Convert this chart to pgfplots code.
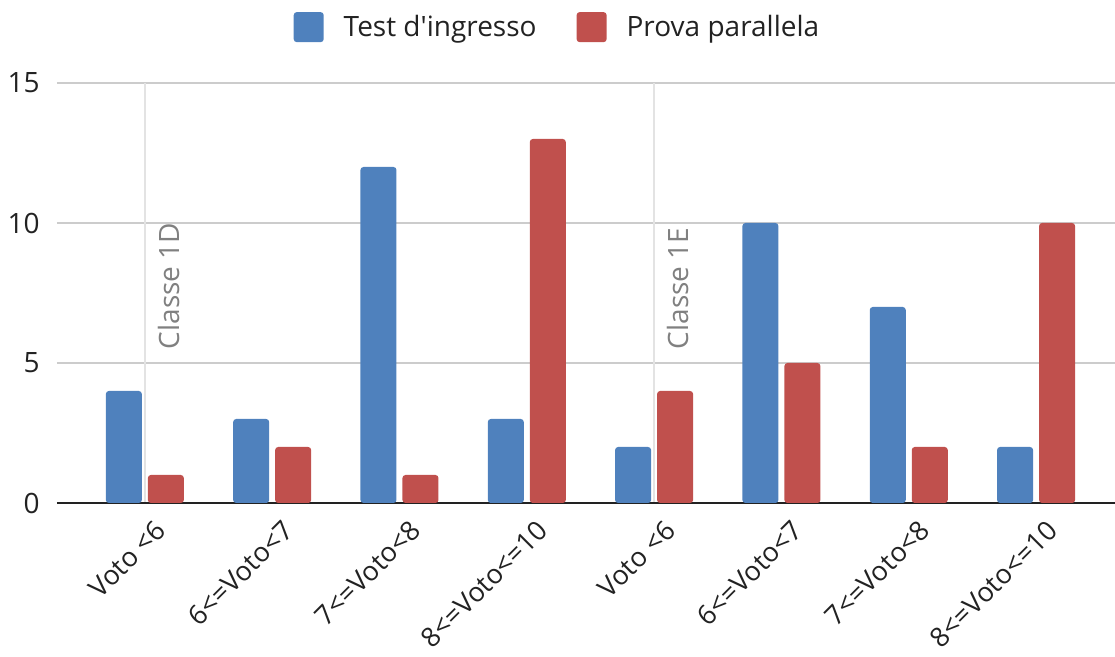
\documentclass[border=0pt]{standalone}
\usepackage{fontspec}
\setmainfont{Open Sans}[Ligatures=TeXOff]
\usepackage{pgfplots}
\pgfplotsset{compat=1.18}
\usetikzlibrary{calc}
\definecolor{serieblu}{HTML}{4F81BD}
\definecolor{serierossa}{HTML}{C0504D}
\definecolor{griglia}{HTML}{CCCCCC}
\definecolor{lineaclasse}{HTML}{E3E3E3}
\definecolor{testo}{HTML}{222222}
\newcommand{\fs}{\fontsize{14}{16}\selectfont}
\newcommand{\fsx}{\fontsize{13.5}{15}\selectfont}

\begin{document}
\begin{tikzpicture}
\begin{axis}[
  name=ax,
  scale only axis, width=529pt, height=210pt,
  ybar, bar width=18pt,
  xmin=-0.69, xmax=7.62, ymin=0, ymax=15,
  xtick={0,...,7},
  xticklabels={Voto <6, 6<=Voto<7, 7<=Voto<8, 8<=Voto<=10,
               Voto <6, 6<=Voto<7, 7<=Voto<8, 8<=Voto<=10},
  xticklabel style={xshift=4.5pt, yshift=-7.5pt, rotate=45, anchor=north east,
                    inner sep=0pt, font=\fsx, text=testo},
  ytick={5,10,15},
  extra y ticks={0},
  extra y tick style={grid=major, major grid style={color=testo, line width=1.2pt}},
  yticklabel style={anchor=east, inner sep=0pt, xshift=-8.5pt, font=\fs, text=testo},
  extra x ticks={0,4},
  extra x tick labels={},
  extra x tick style={grid=major, major grid style={color=lineaclasse, line width=1pt}},
  /pgf/number format/assume math mode=true,
  ymajorgrids, grid style={griglia, line width=1pt},
  axis line style={draw=none},
  major tick length=0pt,
  legend style={at={(0.474,1.133)}, anchor=center, draw=none, fill=none,
                legend columns=2, font=\fs, text=testo,
                /tikz/every odd column/.append style={column sep=8pt},
                /tikz/every even column/.append style={column sep=18pt}},
  legend image code/.code={\fill[#1, rounded corners=1.5pt] (0pt,-7.5pt) rectangle (15pt,7.5pt);},
]
\addplot[fill=serieblu, draw=none, rounded corners=1.5pt, bar shift=-10.5pt]
  coordinates {(0,4) (1,3) (2,12) (3,3) (4,2) (5,10) (6,7) (7,2)};
\addplot[fill=serierossa, draw=none, rounded corners=1.5pt, bar shift=10.5pt]
  coordinates {(0,1) (1,2) (2,1) (3,13) (4,4) (5,5) (6,2) (7,10)};
\legend{Test d'ingresso, Prova parallela}
\node[rotate=90, anchor=north west, inner sep=0pt, font=\fs, text=gray]
  at (axis cs:0.10,5.48) {Classe 1D};
\node[rotate=90, anchor=north west, inner sep=0pt, font=\fs, text=gray]
  at (axis cs:4.10,5.48) {Classe 1E};
\end{axis}
\pgfresetboundingbox
\path ($(ax.south west)+(-28.5pt,-77pt)$) rectangle ($(ax.north east)+(0pt,41.5pt)$);
\end{tikzpicture}
\end{document}
